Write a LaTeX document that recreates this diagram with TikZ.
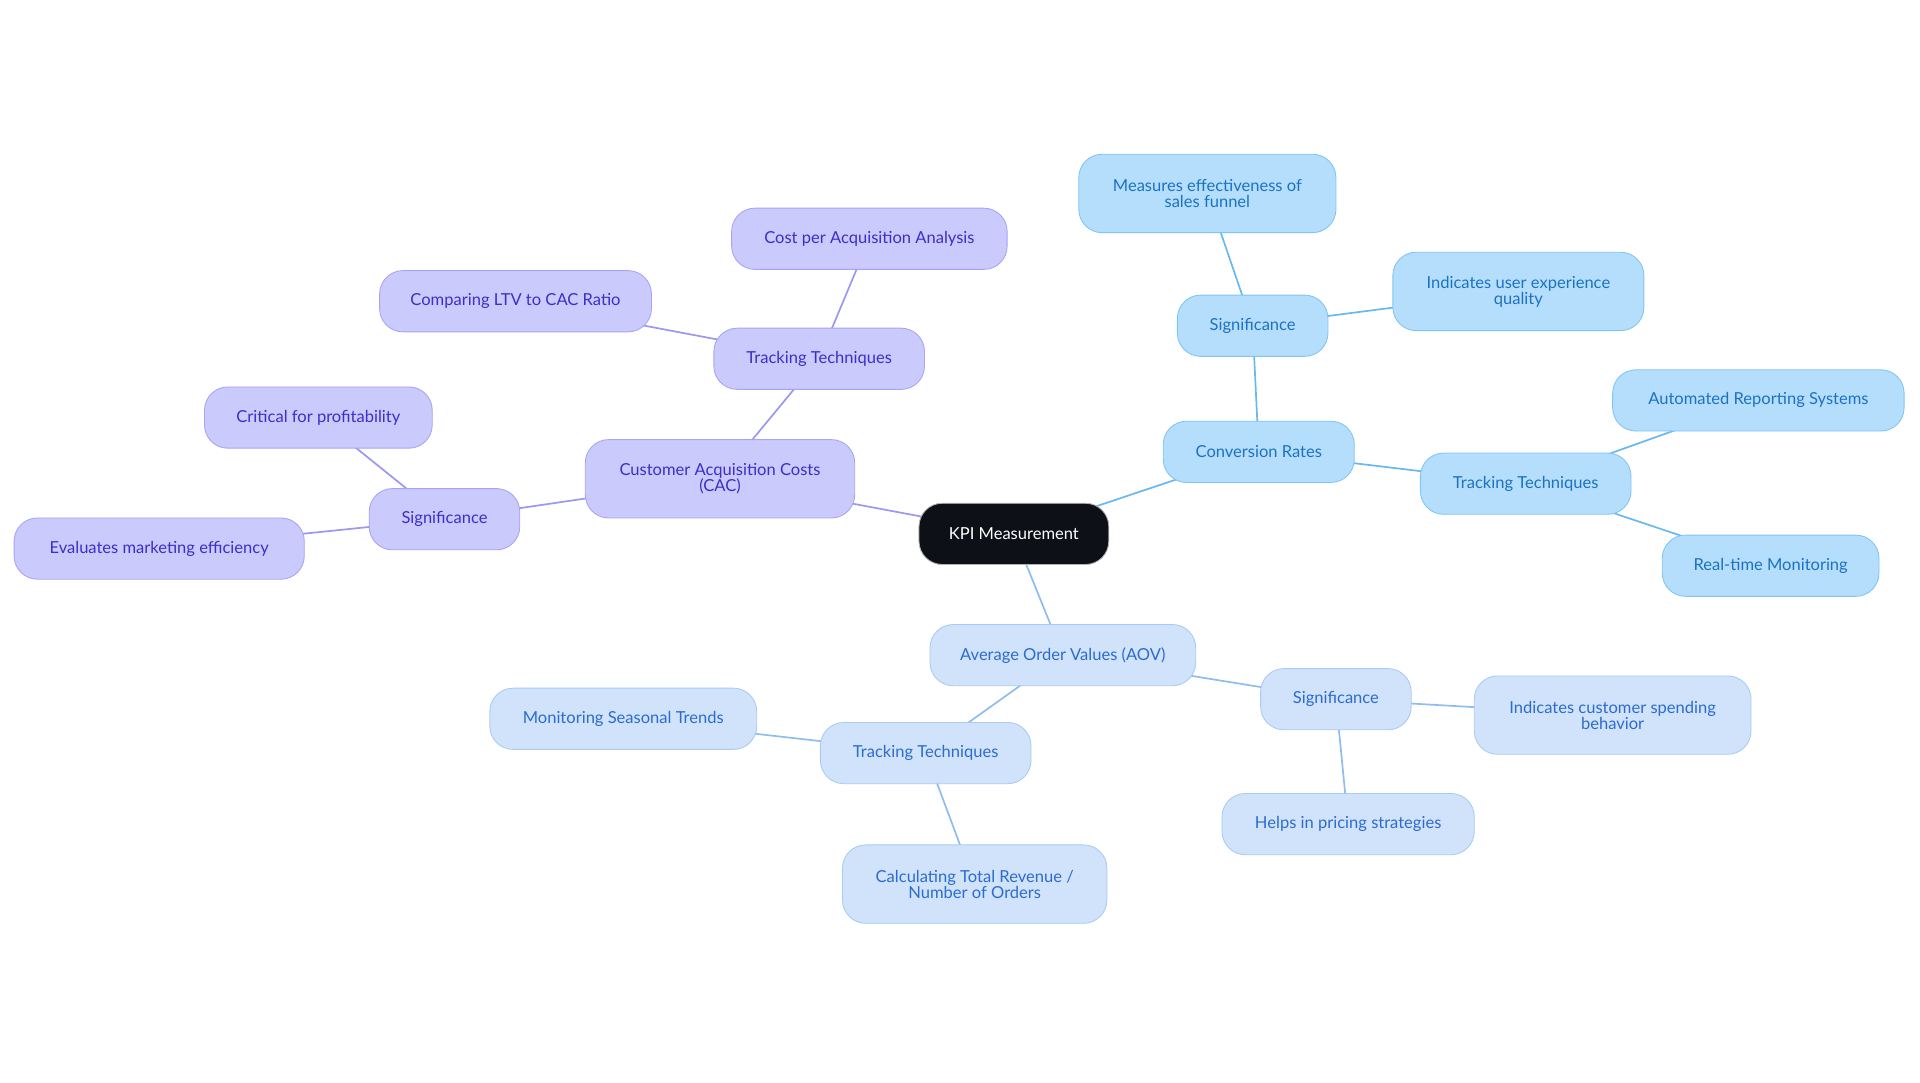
\documentclass[tikz,border=0pt]{standalone}
\usepackage{fontspec}
\setmainfont{Lato}
\begin{document}
\begin{tikzpicture}[x=1pt,y=-1pt,
 base/.style={rounded corners=19pt,align=center,inner sep=0pt,font=\fontsize{13.5}{13}\selectfont,line width=0.7pt},
 pnode/.style={base,fill=pfill,draw=pdraw,text=ptext},
 cnode/.style={base,fill=cfill,draw=cdraw,text=ctext},
 anode/.style={base,fill=afill,draw=adraw,text=atext},
 pe/.style={draw=pedge,line width=1.4pt},
 ce/.style={draw=cedge,line width=1.4pt},
 ae/.style={draw=aedge,line width=1.4pt}]
\definecolor{pfill}{HTML}{CACAFC}\definecolor{pdraw}{HTML}{A7A3F5}\definecolor{ptext}{HTML}{3B2FC9}
\definecolor{cfill}{HTML}{B5DEFC}\definecolor{cdraw}{HTML}{7FC4F5}\definecolor{ctext}{HTML}{1B72C4}
\definecolor{afill}{HTML}{D0E3FB}\definecolor{adraw}{HTML}{A9CAF2}\definecolor{atext}{HTML}{2C6BCF}
\definecolor{pedge}{HTML}{9B97F2}\definecolor{cedge}{HTML}{6BB8F0}\definecolor{aedge}{HTML}{8FBDF0}
\definecolor{kfill}{HTML}{0D1117}
\useasboundingbox (0,0) rectangle (1568,884);
\coordinate (kpi) at (828,436);
\coordinate (cac) at (588,391);\coordinate (ptr) at (669,293);\coordinate (pcpa) at (710,195);
\coordinate (pltv) at (421,246);\coordinate (psig) at (363,424);\coordinate (pcrit) at (260,341);
\coordinate (peval) at (130,448);
\coordinate (conv) at (1028,369);\coordinate (csig) at (1023,266);\coordinate (cmeas) at (986,158);
\coordinate (cind) at (1240,238);\coordinate (ctr) at (1246,395);\coordinate (cauto) at (1436,327);
\coordinate (creal) at (1446,462);
\coordinate (aov) at (868,535);\coordinate (asig) at (1091,571);\coordinate (aind) at (1317,584);
\coordinate (ahelp) at (1101,673);\coordinate (atr) at (756,615);\coordinate (amon) at (509,587);
\coordinate (acalc) at (796,722);
\draw[pe] (kpi)--(cac) (cac)--(ptr) (ptr)--(pcpa) (ptr)--(pltv) (cac)--(psig) (psig)--(pcrit) (psig)--(peval);
\draw[ce] (kpi)--(conv) (conv)--(csig) (csig)--(cmeas) (csig)--(cind) (conv)--(ctr) (ctr)--(cauto) (ctr)--(creal);
\draw[ae] (kpi)--(aov) (aov)--(asig) (asig)--(aind) (asig)--(ahelp) (aov)--(atr) (atr)--(amon) (atr)--(acalc);
\node[base,fill=kfill,draw=gray!60,text=white,minimum width=155pt,minimum height=50pt] (nkpi) at (kpi) {KPI Measurement};
\node[pnode,minimum width=220pt,minimum height=64pt] (ncac) at (cac) {Customer Acquisition Costs\\(CAC)};
\node[pnode,minimum width=172pt,minimum height=50pt] (nptr) at (ptr) {Tracking Techniques};
\node[pnode,minimum width=225pt,minimum height=50pt] (npcpa) at (pcpa) {Cost per Acquisition Analysis};
\node[pnode,minimum width=222pt,minimum height=50pt] (npltv) at (pltv) {Comparing LTV to CAC Ratio};
\node[pnode,minimum width=123pt,minimum height=50pt] (npsig) at (psig) {Significance};
\node[pnode,minimum width=186pt,minimum height=50pt] (npcrit) at (pcrit) {Critical for profitability};
\node[pnode,minimum width=237pt,minimum height=50pt] (npeval) at (peval) {Evaluates marketing efficiency};
\node[cnode,minimum width=156pt,minimum height=50pt] (nconv) at (conv) {Conversion Rates};
\node[cnode,minimum width=123pt,minimum height=50pt] (ncsig) at (csig) {Significance};
\node[cnode,minimum width=210pt,minimum height=64pt] (ncmeas) at (cmeas) {Measures effectiveness of\\sales funnel};
\node[cnode,minimum width=205pt,minimum height=64pt] (ncind) at (cind) {Indicates user experience\\quality};
\node[cnode,minimum width=172pt,minimum height=50pt] (nctr) at (ctr) {Tracking Techniques};
\node[cnode,minimum width=238pt,minimum height=50pt] (ncauto) at (cauto) {Automated Reporting Systems};
\node[cnode,minimum width=177pt,minimum height=50pt] (ncreal) at (creal) {Real-time Monitoring};
\node[anode,minimum width=217pt,minimum height=50pt] (naov) at (aov) {Average Order Values (AOV)};
\node[anode,minimum width=123pt,minimum height=50pt] (nasig) at (asig) {Significance};
\node[anode,minimum width=226pt,minimum height=64pt] (naind) at (aind) {Indicates customer spending\\behavior};
\node[anode,minimum width=206pt,minimum height=50pt] (nahelp) at (ahelp) {Helps in pricing strategies};
\node[anode,minimum width=172pt,minimum height=50pt] (natr) at (atr) {Tracking Techniques};
\node[anode,minimum width=218pt,minimum height=50pt] (namon) at (amon) {Monitoring Seasonal Trends};
\node[anode,minimum width=216pt,minimum height=64pt] (nacalc) at (acalc) {Calculating Total Revenue /\\Number of Orders};
\end{tikzpicture}
\end{document}
